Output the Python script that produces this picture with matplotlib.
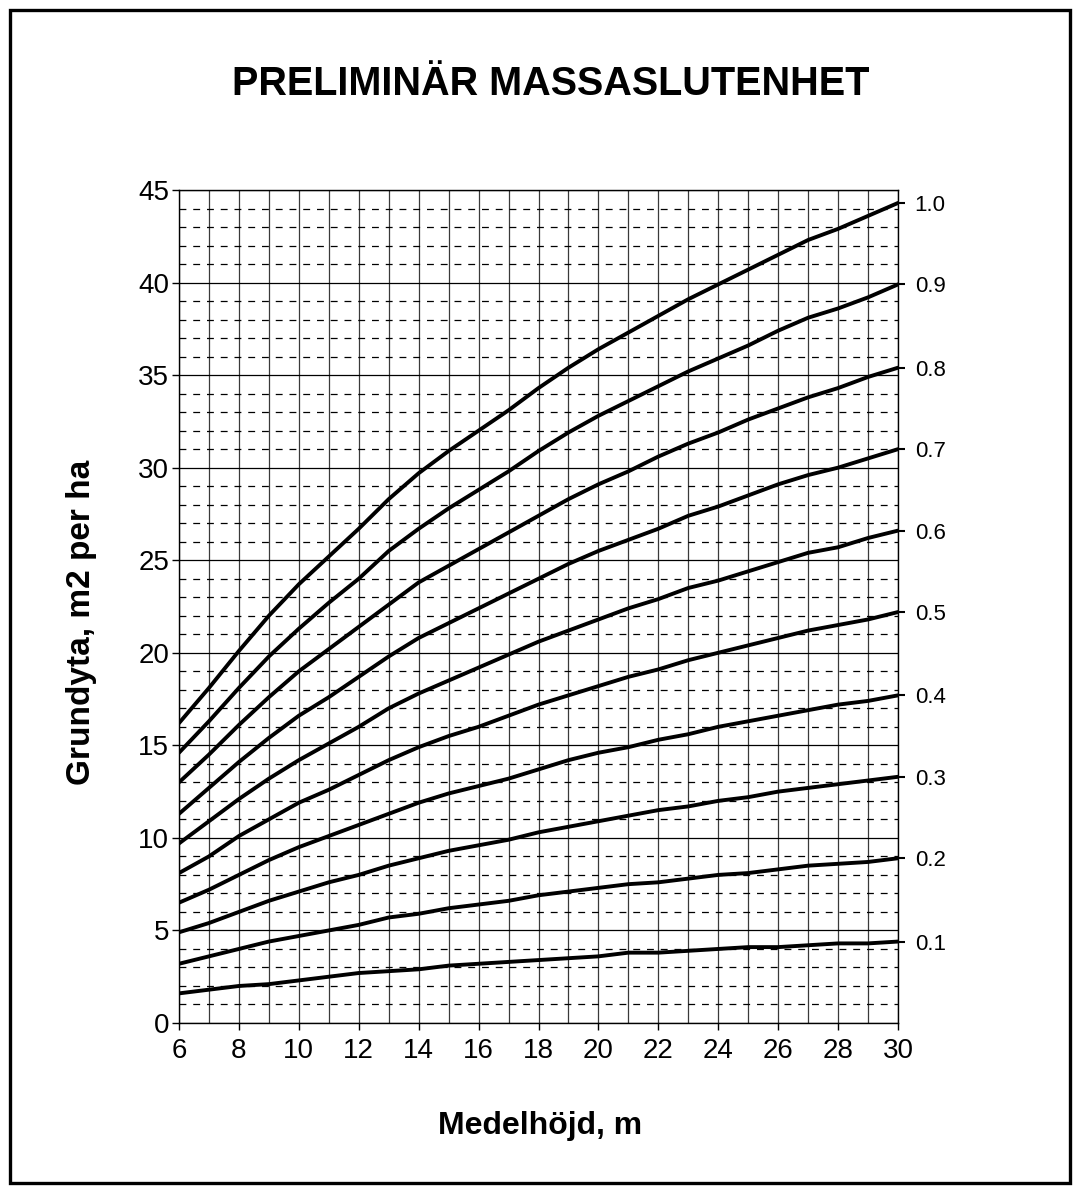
import numpy as np
import matplotlib
matplotlib.use('Agg')
import matplotlib.pyplot as plt
from matplotlib.patches import Rectangle

plt.rcParams['font.family'] = ['Liberation Sans', 'DejaVu Sans']

# Medelhöjd (m) och grundyta (m2/ha) per slutenhetsklass
hojd = np.arange(6, 31)

g10 = [16.2, 18.1, 20.1, 22.0, 23.7, 25.2, 26.7, 28.3, 29.7, 30.9, 32.0, 33.1, 34.3,
       35.4, 36.4, 37.3, 38.2, 39.1, 39.9, 40.7, 41.5, 42.3, 42.9, 43.6, 44.3]
g09 = [14.6, 16.3, 18.1, 19.8, 21.3, 22.7, 24.0, 25.5, 26.7, 27.8, 28.8, 29.8, 30.9,
       31.9, 32.8, 33.6, 34.4, 35.2, 35.9, 36.6, 37.4, 38.1, 38.6, 39.2, 39.9]
g08 = [13.0, 14.5, 16.1, 17.6, 19.0, 20.2, 21.4, 22.6, 23.8, 24.7, 25.6, 26.5, 27.4,
       28.3, 29.1, 29.8, 30.6, 31.3, 31.9, 32.6, 33.2, 33.8, 34.3, 34.9, 35.4]
g07 = [11.3, 12.7, 14.1, 15.4, 16.6, 17.6, 18.7, 19.8, 20.8, 21.6, 22.4, 23.2, 24.0,
       24.8, 25.5, 26.1, 26.7, 27.4, 27.9, 28.5, 29.1, 29.6, 30.0, 30.5, 31.0]
g06 = [9.7, 10.9, 12.1, 13.2, 14.2, 15.1, 16.0, 17.0, 17.8, 18.5, 19.2, 19.9, 20.6,
       21.2, 21.8, 22.4, 22.9, 23.5, 23.9, 24.4, 24.9, 25.4, 25.7, 26.2, 26.6]
g05 = [8.1, 9.0, 10.1, 11.0, 11.9, 12.6, 13.4, 14.2, 14.9, 15.5, 16.0, 16.6, 17.2,
       17.7, 18.2, 18.7, 19.1, 19.6, 20.0, 20.4, 20.8, 21.2, 21.5, 21.8, 22.2]
g04 = [6.5, 7.2, 8.0, 8.8, 9.5, 10.1, 10.7, 11.3, 11.9, 12.4, 12.8, 13.2, 13.7,
       14.2, 14.6, 14.9, 15.3, 15.6, 16.0, 16.3, 16.6, 16.9, 17.2, 17.4, 17.7]
g03 = [4.9, 5.4, 6.0, 6.6, 7.1, 7.6, 8.0, 8.5, 8.9, 9.3, 9.6, 9.9, 10.3,
       10.6, 10.9, 11.2, 11.5, 11.7, 12.0, 12.2, 12.5, 12.7, 12.9, 13.1, 13.3]
g02 = [3.2, 3.6, 4.0, 4.4, 4.7, 5.0, 5.3, 5.7, 5.9, 6.2, 6.4, 6.6, 6.9,
       7.1, 7.3, 7.5, 7.6, 7.8, 8.0, 8.1, 8.3, 8.5, 8.6, 8.7, 8.9]
g01 = [1.6, 1.8, 2.0, 2.1, 2.3, 2.5, 2.7, 2.8, 2.9, 3.1, 3.2, 3.3, 3.4,
       3.5, 3.6, 3.8, 3.8, 3.9, 4.0, 4.1, 4.1, 4.2, 4.3, 4.3, 4.4]

kurvor = [g01, g02, g03, g04, g05, g06, g07, g08, g09, g10]
slutenhet = ['0.1', '0.2', '0.3', '0.4', '0.5', '0.6', '0.7', '0.8', '0.9', '1.0']

W, H = 1079, 1193
fig = plt.figure(figsize=(W / 100, H / 100), dpi=100)
ax = fig.add_axes([179 / W, 1 - 1023 / H, (898 - 179) / W, (1023 - 190) / H])

# rutnät: heldragna linjer varje meter och var femte m2, streckade däremellan
for x in range(6, 31):
    ax.axvline(x, color='#3a3a3a', lw=0.9, zorder=1)
for y in range(0, 46):
    if y % 5 == 0:
        ax.axhline(y, color='black', lw=0.9, zorder=1)
    else:
        ax.axhline(y, color='black', lw=0.9, ls=(0, (5.5, 5.5)), zorder=1)

for g in kurvor:
    ax.plot(hojd, g, color='black', lw=2.8, solid_capstyle='round',
            solid_joinstyle='round', zorder=3)

ax.set_xlim(6, 30)
ax.set_ylim(0, 45)
ax.set_xticks(range(6, 31, 2))
ax.set_yticks(range(0, 46, 5))
ax.tick_params(axis='both', direction='out', length=5, width=1, labelsize=20)
ax.tick_params(axis='x', pad=6)
ax.tick_params(axis='y', pad=2)
for s in ax.spines.values():
    s.set_linewidth(1.0)

# höger axel med slutenhet vid kurvornas slutvärden
ax2 = ax.twinx()
ax2.set_ylim(0, 45)
ax2.set_yticks([g[-1] for g in kurvor])
ax2.set_yticklabels(slutenhet)
ax2.tick_params(axis='y', direction='out', length=5, width=1.5, labelsize=16, pad=7)
for s in ax2.spines.values():
    s.set_visible(False)

fig.text(551 / W, 1 - 84 / H, 'PRELIMINÄR MASSASLUTENHET', ha='center', va='center',
         fontsize=28.5, fontweight='bold')
fig.text(540 / W, 1 - 1126 / H, 'Medelhöjd, m', ha='center', va='center',
         fontsize=23, fontweight='bold')
fig.text(82 / W, 1 - 622 / H, 'Grundyta, m2 per ha', ha='center', va='center',
         rotation=90, fontsize=24, fontweight='bold')

fig.patches.append(Rectangle((10 / W, 10 / H), 1060 / W, 1173 / H, fill=False,
                             lw=2.4, edgecolor='black', transform=fig.transFigure))

fig.savefig('out.png', dpi=100)
